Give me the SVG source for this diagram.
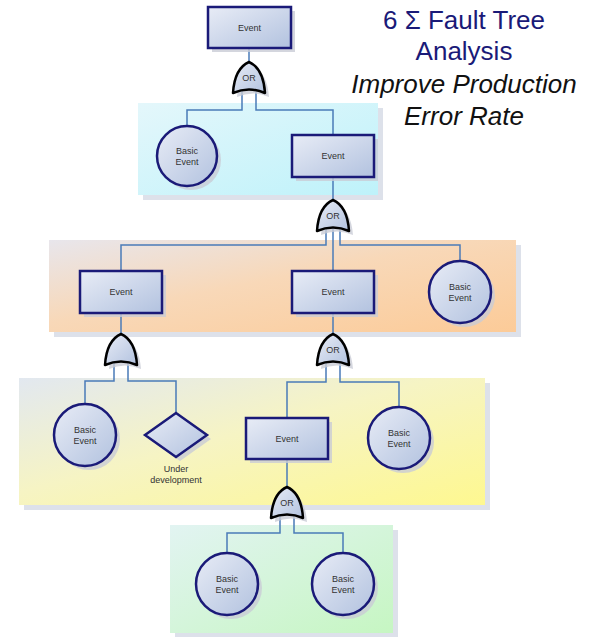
<svg xmlns="http://www.w3.org/2000/svg" width="596" height="637" viewBox="0 0 596 637">
<defs>
<linearGradient id="gNode" x1="0" y1="0" x2="1" y2="1">
<stop offset="0" stop-color="#e8ecf6"/>
<stop offset="1" stop-color="#b2c2df"/>
</linearGradient>
<linearGradient id="gCyan" x1="0" y1="0" x2="1" y2="1">
<stop offset="0" stop-color="#e4f7fb"/>
<stop offset="1" stop-color="#bef2fa"/>
</linearGradient>
<linearGradient id="gOrange" x1="0" y1="0" x2="1" y2="1">
<stop offset="0" stop-color="#e8e6ec"/>
<stop offset="0.45" stop-color="#f8d8b8"/>
<stop offset="1" stop-color="#fccb98"/>
</linearGradient>
<linearGradient id="gYellow" x1="0" y1="0" x2="1" y2="1">
<stop offset="0" stop-color="#e2e8f0"/>
<stop offset="0.45" stop-color="#f6f4c4"/>
<stop offset="1" stop-color="#fef890"/>
</linearGradient>
<linearGradient id="gGreen" x1="0" y1="0" x2="1" y2="1">
<stop offset="0" stop-color="#e2f4f2"/>
<stop offset="1" stop-color="#c6f6c2"/>
</linearGradient>
<path id="gateShape" d="M0,0 C9,4 15,15 16,31 Q0,24 -16,31 C-15,15 -9,4 0,0 Z"/>
<style>
.panelShadow{fill:#dde1ea}
.shadow{fill:#c9ccd6;opacity:0.8}
.box{fill:url(#gNode);stroke:#1a1a78;stroke-width:2.5}
.gate{fill:url(#gNode);stroke:#000;stroke-width:2.5;stroke-linejoin:round}
.conn{fill:none;stroke:#4a7bb8;stroke-width:1.5}
.lbl{font-family:"Liberation Sans",Arial,sans-serif;font-size:9px;fill:#333;text-anchor:middle}
.glbl{font-family:"Liberation Sans",Arial,sans-serif;font-size:9px;fill:#333;text-anchor:middle}
.title{font-family:"Liberation Sans",Arial,sans-serif;font-size:26px;text-anchor:middle}
</style>
</defs>
<rect width="596" height="637" fill="#ffffff"/>

<g id="panels">
<rect class="panelShadow" x="143" y="108" width="240" height="92"/>
<rect x="138" y="103" width="240" height="92" fill="url(#gCyan)"/>
<rect class="panelShadow" x="54" y="245" width="467" height="92"/>
<rect x="49" y="240" width="467" height="92" fill="url(#gOrange)"/>
<rect class="panelShadow" x="24" y="383" width="466" height="127"/>
<rect x="19" y="378" width="466" height="127" fill="url(#gYellow)"/>
<rect class="panelShadow" x="175" y="530" width="223" height="107"/>
<rect x="170" y="525" width="223" height="108" fill="url(#gGreen)"/>
</g>

<g id="title">
<text class="title" x="464" y="29" fill="#1a1a78">6 Σ Fault Tree</text>
<text class="title" x="464" y="60" fill="#1a1a78">Analysis</text>
<text class="title" x="464" y="93" fill="#111" font-style="italic">Improve Production</text>
<text class="title" x="464" y="125" fill="#111" font-style="italic">Error Rate</text>
</g>

<g id="connectors">
<path class="conn" d="M249,48 V63"/>
<path class="conn" d="M242,90 V110 H187 V126"/>
<path class="conn" d="M256,90 V110 H333 V135"/>
<path class="conn" d="M333,177 V201"/>
<path class="conn" d="M326,228 V245 H121 V271"/>
<path class="conn" d="M333,228 V271"/>
<path class="conn" d="M340,228 V245 H460 V261"/>
<path class="conn" d="M121,313 V335"/>
<path class="conn" d="M114,362 V381 H85 V404"/>
<path class="conn" d="M128,362 V381 H176 V413"/>
<path class="conn" d="M333,313 V335"/>
<path class="conn" d="M326,363 V382 H287 V418"/>
<path class="conn" d="M340,363 V382 H399 V407"/>
<path class="conn" d="M287,459 V488"/>
<path class="conn" d="M280,515 V533 H227 V553"/>
<path class="conn" d="M294,515 V533 H343 V553"/>
</g>

<g id="event1">
<rect class="shadow" x="212" y="11" width="83" height="41"/>
<rect class="box" x="208" y="7" width="83" height="41"/>
<text class="lbl" x="249.5" y="30.5">Event</text>
</g>
<g id="gate1">
<use href="#gateShape" class="shadow" x="253" y="66"/>
<use href="#gateShape" class="gate" x="249" y="62"/>
<text class="glbl" x="249" y="81">OR</text>
</g>
<g id="basic1">
<circle class="shadow" cx="191" cy="160" r="30"/>
<circle class="box" cx="187" cy="156" r="30"/>
<text class="lbl" x="187" y="154">Basic</text>
<text class="lbl" x="187" y="165">Event</text>
</g>
<g id="event2">
<rect class="shadow" x="296" y="139" width="82" height="42"/>
<rect class="box" x="292" y="135" width="82" height="42"/>
<text class="lbl" x="333" y="159">Event</text>
</g>
<g id="gate2">
<use href="#gateShape" class="shadow" x="337" y="204"/>
<use href="#gateShape" class="gate" x="333" y="200"/>
<text class="glbl" x="333" y="219">OR</text>
</g>
<g id="event3">
<rect class="shadow" x="84" y="275" width="82" height="42"/>
<rect class="box" x="80" y="271" width="82" height="42"/>
<text class="lbl" x="121" y="295">Event</text>
</g>
<g id="event4">
<rect class="shadow" x="296" y="275" width="82" height="42"/>
<rect class="box" x="292" y="271" width="82" height="42"/>
<text class="lbl" x="333" y="295">Event</text>
</g>
<g id="basic2">
<circle class="shadow" cx="464" cy="296" r="31"/>
<circle class="box" cx="460" cy="292" r="31"/>
<text class="lbl" x="460" y="290">Basic</text>
<text class="lbl" x="460" y="301">Event</text>
</g>
<g id="gate3">
<use href="#gateShape" class="shadow" x="125" y="338"/>
<use href="#gateShape" class="gate" x="121" y="334"/>
</g>
<g id="gate4">
<use href="#gateShape" class="shadow" x="337" y="338"/>
<use href="#gateShape" class="gate" x="333" y="334"/>
<text class="glbl" x="333" y="353">OR</text>
</g>
<g id="basic3">
<circle class="shadow" cx="89" cy="439" r="31"/>
<circle class="box" cx="85" cy="435" r="31"/>
<text class="lbl" x="85" y="433">Basic</text>
<text class="lbl" x="85" y="444">Event</text>
</g>
<g id="undeveloped">
<path class="shadow" d="M180,417 L211,439 L180,461 L149,439 Z"/>
<path class="box" d="M176,413 L207,435 L176,457 L145,435 Z"/>
<text class="lbl" x="176" y="472">Under</text>
<text class="lbl" x="176" y="483">development</text>
</g>
<g id="event5">
<rect class="shadow" x="250" y="422" width="82" height="41"/>
<rect class="box" x="246" y="418" width="82" height="41"/>
<text class="lbl" x="287" y="441.5">Event</text>
</g>
<g id="basic4">
<circle class="shadow" cx="403" cy="442" r="31"/>
<circle class="box" cx="399" cy="438" r="31"/>
<text class="lbl" x="399" y="436">Basic</text>
<text class="lbl" x="399" y="447">Event</text>
</g>
<g id="gate5">
<use href="#gateShape" class="shadow" x="291" y="491"/>
<use href="#gateShape" class="gate" x="287" y="487"/>
<text class="glbl" x="287" y="506">OR</text>
</g>
<g id="basic5">
<circle class="shadow" cx="231" cy="588" r="31"/>
<circle class="box" cx="227" cy="584" r="31"/>
<text class="lbl" x="227" y="582">Basic</text>
<text class="lbl" x="227" y="593">Event</text>
</g>
<g id="basic6">
<circle class="shadow" cx="347" cy="588" r="31"/>
<circle class="box" cx="343" cy="584" r="31"/>
<text class="lbl" x="343" y="582">Basic</text>
<text class="lbl" x="343" y="593">Event</text>
</g>
</svg>
